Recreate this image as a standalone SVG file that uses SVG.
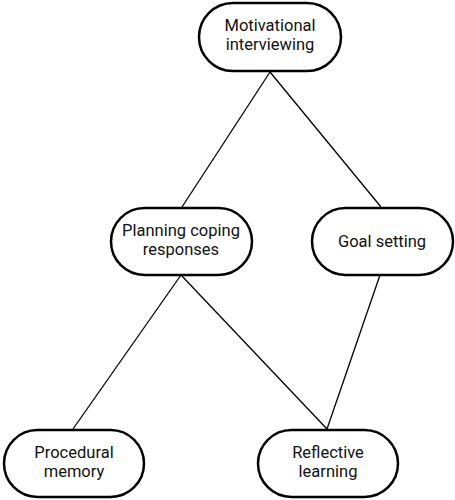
<svg xmlns="http://www.w3.org/2000/svg" width="455" height="500" viewBox="0 0 455 500">
<style>
.node rect{fill:#fff;stroke:#000;stroke-width:2.5}
.node text{font-family:Roboto,"Noto Sans",sans-serif;font-size:16.5px;fill:#111;text-anchor:middle}
.edges line{stroke:#000;stroke-width:1.3}
</style>
<rect width="455" height="500" fill="#fff"/>
<g class="edges">
<line x1="270" y1="72" x2="182" y2="207"/>
<line x1="270" y1="72" x2="381" y2="207"/>
<line x1="181" y1="275" x2="73" y2="429"/>
<line x1="181" y1="275" x2="327" y2="429"/>
<line x1="380" y1="275" x2="327" y2="429"/>
</g>
<g id="n1" class="node"><rect x="199" y="3" width="142" height="68" rx="34"/><text x="270" y="31">Motivational</text><text x="270" y="50">interviewing</text></g>
<g id="n2" class="node"><rect x="111" y="208" width="141" height="67" rx="33.5"/><text x="181" y="236">Planning coping</text><text x="181" y="255">responses</text></g>
<g id="n3" class="node"><rect x="312" y="208" width="141" height="67" rx="33.5"/><text x="382" y="247">Goal setting</text></g>
<g id="n4" class="node"><rect x="4" y="430" width="140" height="67" rx="33.5"/><text x="74" y="458">Procedural</text><text x="74" y="477">memory</text></g>
<g id="n5" class="node"><rect x="258" y="430" width="140" height="67" rx="33.5"/><text x="328" y="458">Reflective</text><text x="328" y="477">learning</text></g>
</svg>
